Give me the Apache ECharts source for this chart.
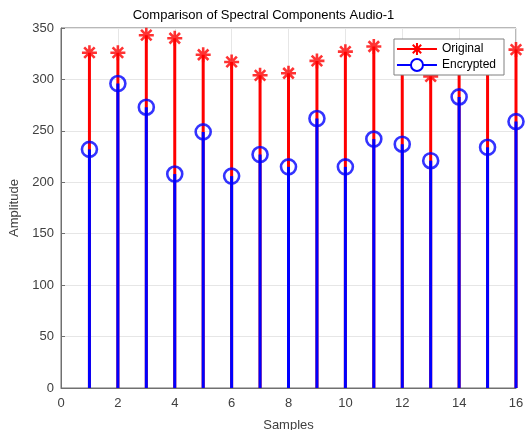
<!DOCTYPE html>
<html><head><meta charset="utf-8">
<script src="https://cdn.jsdelivr.net/npm/echarts@6/dist/echarts.min.js"></script>
<style>html,body{margin:0;padding:0;background:#fff}#c{width:527px;height:430px}</style>
</head><body><div id="c"></div>
<script>
const samples = [1,2,3,4,5,6,7,8,9,10,11,12,13,14,15,16];
const original = [326,326,343,340,324,317,304,306,318,327,332,315,303,320,310,329];
const encrypted = [232,296,273,208,249,206,227,215,262,215,242,237,221,283,234,259];
const xTicks = [0,2,4,6,8,10,12,14,16];
const yTicks = [0,50,100,150,200,250,300,350];

const pair = a => samples.map((s,i)=>[s,a[i]]);
const STAR = 'path://M0,5 L10,5 M5,0 L5,10 M1.5,1.5 L8.5,8.5 M8.5,1.5 L1.5,8.5';
const F = 'Liberation Sans, Arial, sans-serif';
const AX = '#707070';
const chart = echarts.init(document.getElementById('c'));
chart.setOption({
  animation:false,
  title:{text:'Comparison of Spectral Components Audio-1',left:'center',top:4,
    textStyle:{fontFamily:F,fontSize:13,fontWeight:'normal',color:'#000'}},
  grid:{left:61,right:11,top:28,bottom:42,show:true,borderColor:AX,borderWidth:1,
    containLabel:false,outerBoundsMode:'none'},
  legend:{right:23,top:39,orient:'vertical',backgroundColor:'#fff',borderColor:'#808080',borderWidth:1,
    padding:[3,8,3,2],itemGap:2,itemWidth:40,itemHeight:15,z:50,
    textStyle:{fontFamily:F,fontSize:12,color:'#000'},
    data:['Original','Encrypted']},
  xAxis:{type:'value',min:xTicks[0],max:xTicks[xTicks.length-1],interval:2,
    name:'Samples',nameLocation:'middle',nameGap:31,
    nameTextStyle:{fontFamily:F,fontSize:13,color:'#404040'},
    axisLine:{lineStyle:{color:AX}},axisTick:{inside:true,length:4,lineStyle:{color:AX}},
    axisLabel:{fontFamily:F,fontSize:13,color:'#404040',margin:9},
    splitLine:{show:true,lineStyle:{color:'#e6e6e6'}}},
  yAxis:{type:'value',min:yTicks[0],max:yTicks[yTicks.length-1],interval:50,
    name:'Amplitude',nameLocation:'middle',nameGap:36,
    nameTextStyle:{fontFamily:F,fontSize:13,color:'#404040'},
    axisLine:{show:true,lineStyle:{color:AX}},axisTick:{show:true,inside:true,length:4,lineStyle:{color:AX}},
    axisLabel:{fontFamily:F,fontSize:13,color:'#404040',margin:7},
    splitLine:{show:true,lineStyle:{color:'#e6e6e6'}}},
  series:[
    {name:'OrigStem',type:'bar',data:pair(original),barWidth:3,barGap:'-100%',itemStyle:{color:'#ff0000'},z:2},
    {name:'EncStem',type:'bar',data:pair(encrypted),barWidth:3,barGap:'-100%',itemStyle:{color:'#0000ff'},z:3},
    {name:'OrigMark',type:'scatter',data:pair(original),symbol:STAR,symbolSize:15,
      itemStyle:{color:'#ff0000',borderColor:'#ff0000',borderWidth:2.6},z:4},
    {name:'EncMark',type:'scatter',data:pair(encrypted),symbol:'circle',symbolSize:15,
      itemStyle:{color:'rgba(0,0,0,0)',borderColor:'#0000ff',borderWidth:2.6},z:5},
    {name:'Original',type:'line',data:[],symbol:STAR,symbolSize:14,
      lineStyle:{width:3,color:'#ff0000'},itemStyle:{color:'#ff0000',borderColor:'#ff0000',borderWidth:2.5}},
    {name:'Encrypted',type:'line',data:[],symbol:'circle',symbolSize:14,
      lineStyle:{width:3,color:'#0000ff'},itemStyle:{color:'#ffffff',borderColor:'#0000ff',borderWidth:2.5}}
  ]
});
</script></body></html>
